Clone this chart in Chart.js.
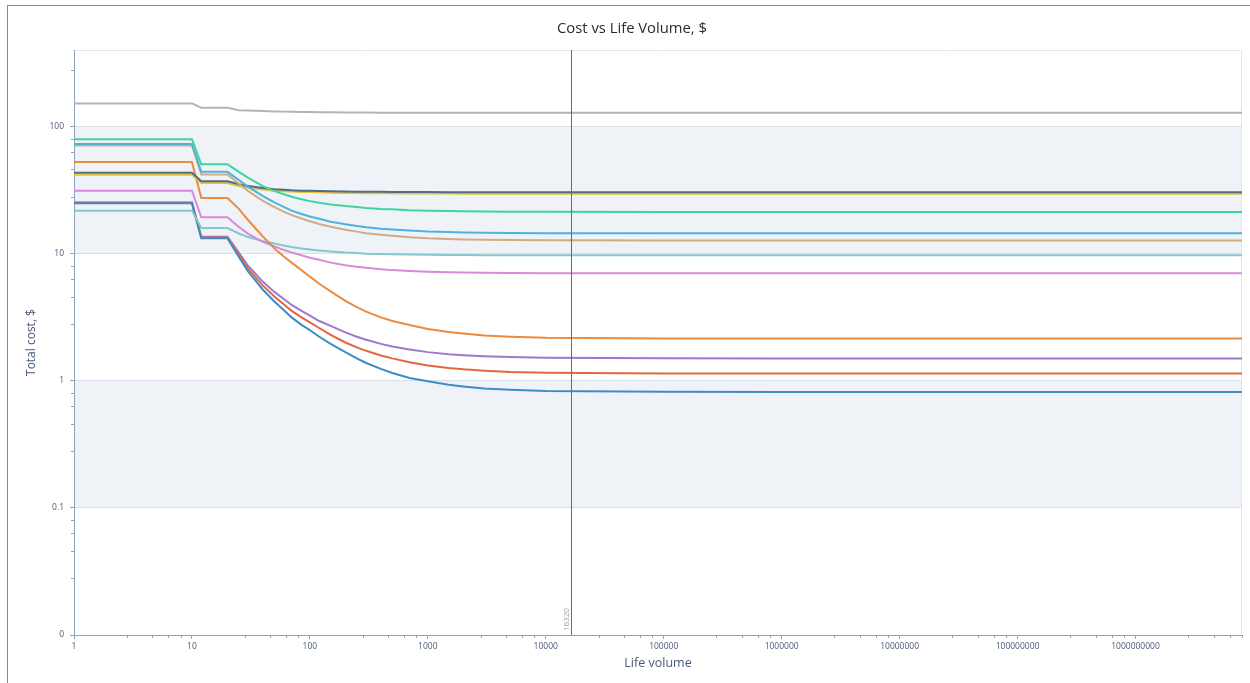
<!DOCTYPE html>
<html>
<head>
<meta charset="utf-8">
<title>Cost vs Life Volume</title>
<script src="https://cdn.jsdelivr.net/npm/chart.js@4.4.1/dist/chart.umd.min.js"></script>
<style>
  html, body { margin: 0; padding: 0; background: #fff; }
  #wrap { position: relative; width: 1250px; height: 683px; overflow: hidden; }
  #frame { position: absolute; left: 7px; top: 5px; right: 0; bottom: 0;
           border-left: 1px solid #7b8ca6; border-top: 1px solid #7b8ca6; }
  #costChart { position: absolute; left: 0; top: 0; }
</style>
</head>
<body>
<div id="wrap">
  <div id="frame"></div>
  <canvas id="costChart" width="1250" height="683"></canvas>
</div>
<script>
// life volumes at which every cost curve is sampled
const lifeVolumes = [1, 10, 12, 20, 25, 30, 40, 50, 60, 70, 85, 100, 120, 150, 200, 250, 300, 400, 500, 700,
  1000, 1500, 2000, 3000, 5000, 10000, 1e5, 1e6, 1e7, 1e8, 1e9, 8e9];

// total cost per part, $
const costGray   = [152, 152, 140.5, 140.5, 134.5, 133.6, 132.3, 131.4, 131, 130.6, 130.2, 129.9, 129.6, 129.3, 129, 128.85, 128.75, 128.6, 128.55, 128.45,
  128.4, 128.35, 128.33, 128.32, 128.3, 128.3, 128.3, 128.3, 128.3, 128.3, 128.3, 128.3];
const costGreen  = [79.5, 79.5, 50.5, 50.5, 44, 39.5, 34, 31, 29.3, 28, 26.8, 25.9, 25.1, 24.4, 23.7, 23.3, 22.9, 22.5, 22.3, 21.95,
  21.8, 21.65, 21.55, 21.45, 21.4, 21.35, 21.3, 21.3, 21.3, 21.3, 21.3, 21.3];
const costCyan   = [73, 73, 44, 44, 38, 33.5, 28.3, 25.3, 23.3, 21.8, 20.5, 19.6, 18.8, 17.8, 17, 16.5, 16.1, 15.7, 15.5, 15.2,
  14.95, 14.8, 14.7, 14.6, 14.55, 14.5, 14.45, 14.45, 14.45, 14.45, 14.45, 14.45];
const costTan    = [71, 71, 42, 42, 35.5, 31, 26, 23.2, 21.4, 20.1, 18.9, 18, 17.1, 16.3, 15.4, 14.9, 14.5, 14.1, 13.8, 13.45,
  13.2, 13.05, 12.95, 12.85, 12.8, 12.75, 12.7, 12.7, 12.7, 12.7, 12.7, 12.7];
const costSlate  = [43.2, 43.2, 37.1, 37.1, 35.2, 34, 32.8, 32.1, 31.8, 31.5, 31.3, 31.2, 31.05, 30.9, 30.8, 30.75, 30.7, 30.65, 30.6, 30.55,
  30.5, 30.47, 30.45, 30.43, 30.42, 30.4, 30.4, 30.4, 30.4, 30.4, 30.4, 30.4];
const costYellow = [41.7, 41.7, 36, 36, 34, 33, 31.9, 31.3, 31, 30.8, 30.6, 30.5, 30.35, 30.2, 30.05, 30, 29.9, 29.85, 29.8, 29.75,
  29.7, 29.67, 29.65, 29.63, 29.62, 29.6, 29.6, 29.6, 29.6, 29.6, 29.6, 29.6];
const costOrange = [52.5, 52.5, 27.4, 27.4, 22.5, 18.3, 13.6, 11, 9.5, 8.5, 7.4, 6.6, 5.8, 5.05, 4.25, 3.8, 3.5, 3.15, 2.95, 2.75,
  2.55, 2.42, 2.35, 2.27, 2.22, 2.18, 2.155, 2.15, 2.15, 2.15, 2.15, 2.15];
const costOrchid = [31.3, 31.3, 19.3, 19.3, 16.2, 14.3, 12.4, 11.4, 10.7, 10.2, 9.7, 9.3, 8.95, 8.5, 8.1, 7.9, 7.75, 7.55, 7.42, 7.3,
  7.2, 7.14, 7.1, 7.07, 7.05, 7.02, 7.0, 7.0, 7.0, 7.0, 7.0, 7.0];
const costTeal   = [21.8, 21.8, 15.9, 15.9, 14.4, 13.5, 12.5, 12, 11.6, 11.3, 11, 10.8, 10.6, 10.4, 10.2, 10.1, 10, 9.95, 9.9, 9.85,
  9.8, 9.77, 9.75, 9.73, 9.72, 9.71, 9.7, 9.7, 9.7, 9.7, 9.7, 9.7];
const costPurple = [25.3, 25.3, 13.6, 13.6, 10.2, 8.0, 6.0, 5.0, 4.4, 3.95, 3.55, 3.25, 2.95, 2.7, 2.4, 2.22, 2.1, 1.95, 1.86, 1.76,
  1.68, 1.62, 1.59, 1.56, 1.535, 1.515, 1.502, 1.5, 1.5, 1.5, 1.5, 1.5];
const costRed    = [25.1, 25.1, 13.4, 13.4, 9.8, 7.6, 5.6, 4.6, 4.0, 3.55, 3.15, 2.88, 2.6, 2.3, 2.0, 1.83, 1.72, 1.58, 1.5, 1.4,
  1.32, 1.26, 1.23, 1.2, 1.17, 1.155, 1.142, 1.14, 1.14, 1.14, 1.14, 1.14];
const costBlue   = [24.9, 24.9, 13.2, 13.2, 9.4, 7.2, 5.2, 4.2, 3.6, 3.15, 2.75, 2.5, 2.22, 1.95, 1.68, 1.5, 1.38, 1.24, 1.15, 1.05,
  0.99, 0.93, 0.9, 0.87, 0.85, 0.832, 0.818, 0.815, 0.815, 0.815, 0.815, 0.815];

// axis ticks
const xTickValues = [1, 10, 100, 1000, 10000, 100000, 1000000, 10000000, 100000000, 1000000000];
const yTickValues = [0.01, 0.1, 1, 10, 100];
const minorSteps = [2.8, 4.6, 6.3, 8];

// selected volume cursor
const markerVolume = 16320;

const fontFamily = "'Open Sans', 'Noto Sans', sans-serif";
const axisColor = '#8fa3bd';
const labelColor = '#4a5a78';

// first entry is drawn on top
const series = [
  { name: 'Gray',   values: costGray,   color: '#b4b4b4' },
  { name: 'Green',  values: costGreen,  color: '#3fd49c' },
  { name: 'Cyan',   values: costCyan,   color: '#4db3dc' },
  { name: 'Tan',    values: costTan,    color: '#cfac84' },
  { name: 'Slate',  values: costSlate,  color: '#4f6d85' },
  { name: 'Yellow', values: costYellow, color: '#e6c23a' },
  { name: 'Orange', values: costOrange, color: '#ee8a3c' },
  { name: 'Orchid', values: costOrchid, color: '#d88ad8' },
  { name: 'Teal',   values: costTeal,   color: '#82c8cc' },
  { name: 'Blue',   values: costBlue,   color: '#3c8dc6' },
  { name: 'Red',    values: costRed,    color: '#e4653f' },
  { name: 'Purple', values: costPurple, color: '#9b79cc' }
];

const toPoints = values => lifeVolumes.map((v, i) => ({ x: v, y: values[i] }));

// shaded decade bands and the light frame of the plot area
const bandPlugin = {
  id: 'bands',
  beforeDraw(chart) {
    const { ctx, chartArea: a, scales: { y } } = chart;
    ctx.save();
    ctx.fillStyle = '#eff2f7';
    [[10, 100], [0.1, 1]].forEach(([lo, hi]) => {
      const top = y.getPixelForValue(hi);
      const bottom = y.getPixelForValue(lo);
      ctx.fillRect(a.left, top, a.right - a.left, bottom - top);
    });
    ctx.strokeStyle = '#e3e7ed';
    ctx.lineWidth = 1;
    ctx.beginPath();
    ctx.moveTo(a.left, a.top + 0.5);
    ctx.lineTo(a.right - 0.5, a.top + 0.5);
    ctx.lineTo(a.right - 0.5, a.bottom);
    ctx.stroke();
    ctx.restore();
  }
};

// small unlabelled ticks between the decades
const minorTickPlugin = {
  id: 'minorTicks',
  afterDraw(chart) {
    const { ctx, chartArea: a, scales: { x, y } } = chart;
    ctx.save();
    ctx.strokeStyle = axisColor;
    ctx.lineWidth = 1;
    ctx.beginPath();
    for (let d = 1; d < 1e10; d *= 10) {
      minorSteps.forEach(m => {
        const v = d * m;
        if (v > x.max) return;
        const px = Math.round(x.getPixelForValue(v)) + 0.5;
        ctx.moveTo(px, a.bottom);
        ctx.lineTo(px, a.bottom + 3);
      });
    }
    for (let d = 0.01; d < 1000; d *= 10) {
      minorSteps.forEach(m => {
        const v = d * m;
        if (v > y.max) return;
        const py = Math.round(y.getPixelForValue(v)) + 0.5;
        ctx.moveTo(a.left - 3, py);
        ctx.lineTo(a.left, py);
      });
    }
    ctx.stroke();
    ctx.restore();
  }
};

// vertical cursor at the selected life volume
const markerPlugin = {
  id: 'volumeMarker',
  afterDatasetsDraw(chart) {
    const { ctx, chartArea: a, scales: { x } } = chart;
    const px = Math.round(x.getPixelForValue(markerVolume)) + 0.5;
    ctx.save();
    ctx.strokeStyle = '#6b6b6b';
    ctx.lineWidth = 1;
    ctx.beginPath();
    ctx.moveTo(px, a.top);
    ctx.lineTo(px, a.bottom);
    ctx.stroke();
    ctx.translate(px - 5, a.bottom - 4);
    ctx.rotate(-Math.PI / 2);
    ctx.font = '8px ' + fontFamily;
    ctx.fillStyle = '#9a9a9a';
    ctx.textAlign = 'left';
    ctx.textBaseline = 'middle';
    ctx.fillText(String(markerVolume), 0, 0);
    ctx.restore();
  }
};

new Chart(document.getElementById('costChart'), {
  type: 'line',
  data: {
    datasets: series.map(s => ({
      label: s.name,
      data: toPoints(s.values),
      borderColor: s.color,
      backgroundColor: s.color,
      borderWidth: 2,
      pointRadius: 0,
      tension: 0,
      fill: false
    }))
  },
  options: {
    responsive: false,
    animation: false,
    devicePixelRatio: 1,
    layout: { padding: { left: 22, right: 8, top: 0, bottom: 0 } },
    plugins: {
      legend: { display: false },
      tooltip: { enabled: false },
      title: {
        display: true,
        text: 'Cost vs Life Volume, $',
        color: '#2b2b2b',
        font: { family: fontFamily, size: 14.8, weight: 'normal' },
        padding: { top: 19.6, bottom: 12.64 }
      }
    },
    scales: {
      x: {
        type: 'logarithmic',
        min: 1,
        max: 8e9,
        afterBuildTicks: s => { s.ticks = xTickValues.map(v => ({ value: v })); },
        afterFit: s => { s.height = 48; },
        ticks: {
          autoSkip: false,
          maxRotation: 0,
          padding: 2,
          color: labelColor,
          font: { family: fontFamily, size: 8.5 },
          callback: v => String(v)
        },
        grid: { drawOnChartArea: false, tickLength: 4, tickColor: axisColor },
        border: { color: axisColor },
        title: {
          display: true,
          text: 'Life volume',
          color: labelColor,
          font: { family: fontFamily, size: 12.5 },
          padding: { top: 0, bottom: 12.5 }
        }
      },
      y: {
        type: 'logarithmic',
        min: 0.01,
        max: 400,
        afterBuildTicks: s => { s.ticks = yTickValues.map(v => ({ value: v })); },
        afterFit: s => { s.width = 52; },
        ticks: {
          autoSkip: false,
          padding: 6,
          color: labelColor,
          font: { family: fontFamily, size: 8.5 },
          callback: v => (v === 0.01 ? '0' : String(v))
        },
        grid: { color: '#d9dfe8', tickLength: 4, tickColor: axisColor },
        border: { color: axisColor },
        title: {
          display: true,
          text: 'Total cost, $',
          color: labelColor,
          font: { family: fontFamily, size: 12 },
          padding: { top: 2.8, bottom: 0 }
        }
      }
    }
  },
  plugins: [bandPlugin, markerPlugin, minorTickPlugin]
});
</script>
</body>
</html>
